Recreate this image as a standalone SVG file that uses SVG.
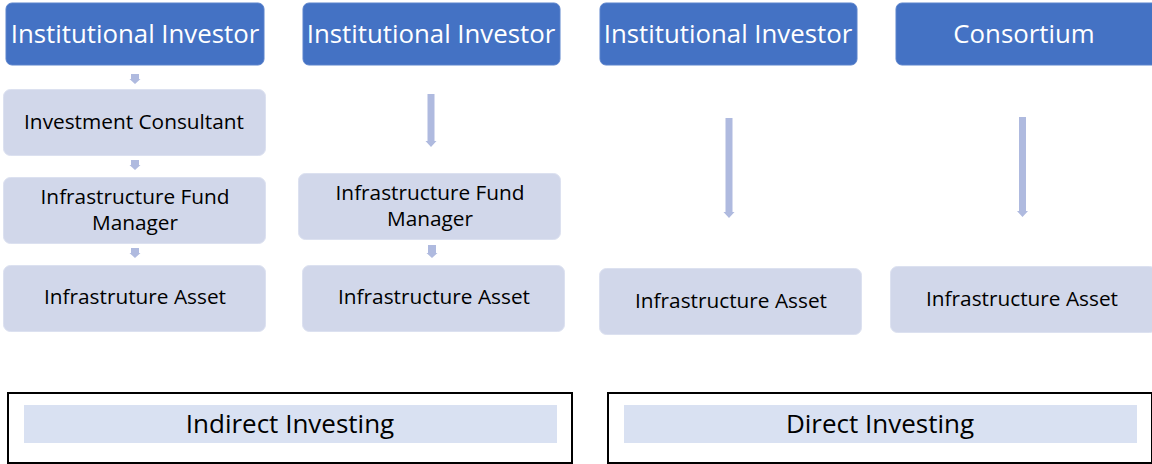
<svg xmlns="http://www.w3.org/2000/svg" width="1152" height="464" viewBox="0 0 1152 464">
<style>
.top{fill:#4472C4;stroke:#5B83CC;stroke-width:1}
.box{fill:#D1D7EA;stroke:#DCE1F0;stroke-width:1}
.tt{font-family:"Open Sans","Noto Sans",sans-serif;font-size:25.8px;fill:#FFFFFF;text-anchor:middle}
.bt{font-family:"Open Sans","Noto Sans",sans-serif;font-size:20.8px;fill:#000000;text-anchor:middle}
.arr{fill:#AFBADF}
.frame{fill:#FFFFFF;stroke:#000000;stroke-width:2}
.band{fill:#D9E1F2}
.lt{font-family:"Open Sans","Noto Sans",sans-serif;font-size:26px;fill:#000000;text-anchor:middle}
</style>
<rect width="1152" height="464" fill="#FFFFFF"/>
<g id="connectors">
<path class="arr" d="M131 74H139V79H140.5L135 84L129.5 79H131Z"/>
<path class="arr" d="M131 160H139V165H140.5L135 170L129.5 165H131Z"/>
<path class="arr" d="M131 248H139V253H140.5L135 258L129.5 253H131Z"/>
<path class="arr" d="M427.5 94H434.5V141H436.5L431 147L425.5 141H427.5Z"/>
<path class="arr" d="M428 245H436V253H437.5L432 258L426.5 253H428Z"/>
<path class="arr" d="M725.5 118H732.5V212H734.5L729 218L723.5 212H725.5Z"/>
<path class="arr" d="M1019 117H1026V211H1028L1022.5 217L1017 211H1019Z"/>
</g>
<g id="n1-investor"><rect class="top" x="6" y="3" width="258" height="62" rx="6"/><text class="tt" x="135" y="43">Institutional Investor</text></g>
<g id="n1-consultant"><rect class="box" x="3.5" y="89.5" width="262" height="66" rx="7"/><text class="bt" x="134" y="129">Investment Consultant</text></g>
<g id="n1-fund"><rect class="box" x="3.5" y="177.5" width="262" height="66" rx="7"/><text class="bt" x="135" y="204">Infrastructure Fund</text><text class="bt" x="135" y="230">Manager</text></g>
<g id="n1-asset"><rect class="box" x="3.5" y="265.5" width="262" height="66" rx="7"/><text class="bt" x="135" y="304">Infrastruture Asset</text></g>
<g id="n2-investor"><rect class="top" x="303" y="3" width="257" height="62" rx="6"/><text class="tt" x="431" y="43">Institutional Investor</text></g>
<g id="n2-fund"><rect class="box" x="298.5" y="173.5" width="262" height="66" rx="7"/><text class="bt" x="430" y="200">Infrastructure Fund</text><text class="bt" x="430" y="226">Manager</text></g>
<g id="n2-asset"><rect class="box" x="302.5" y="265.5" width="262" height="66" rx="7"/><text class="bt" x="434" y="304">Infrastructure Asset</text></g>
<g id="n3-investor"><rect class="top" x="600" y="3" width="257" height="62" rx="6"/><text class="tt" x="728" y="43">Institutional Investor</text></g>
<g id="n3-asset"><rect class="box" x="599.5" y="268.5" width="262" height="66" rx="7"/><text class="bt" x="731" y="308">Infrastructure Asset</text></g>
<g id="n4-consortium"><rect class="top" x="896" y="3" width="262" height="62" rx="6"/><text class="tt" x="1024" y="43">Consortium</text></g>
<g id="n4-asset"><rect class="box" x="890.5" y="266.5" width="266" height="66" rx="7"/><text class="bt" x="1022" y="306">Infrastructure Asset</text></g>
<g id="indirect"><rect class="frame" x="8" y="393" width="564" height="70"/><rect class="band" x="24" y="405" width="533" height="38"/><text class="lt" x="290" y="433">Indirect Investing</text></g>
<g id="direct"><rect class="frame" x="608" y="393" width="544" height="70"/><rect class="band" x="624" y="405" width="513" height="38"/><text class="lt" x="880" y="433">Direct Investing</text></g>
</svg>
